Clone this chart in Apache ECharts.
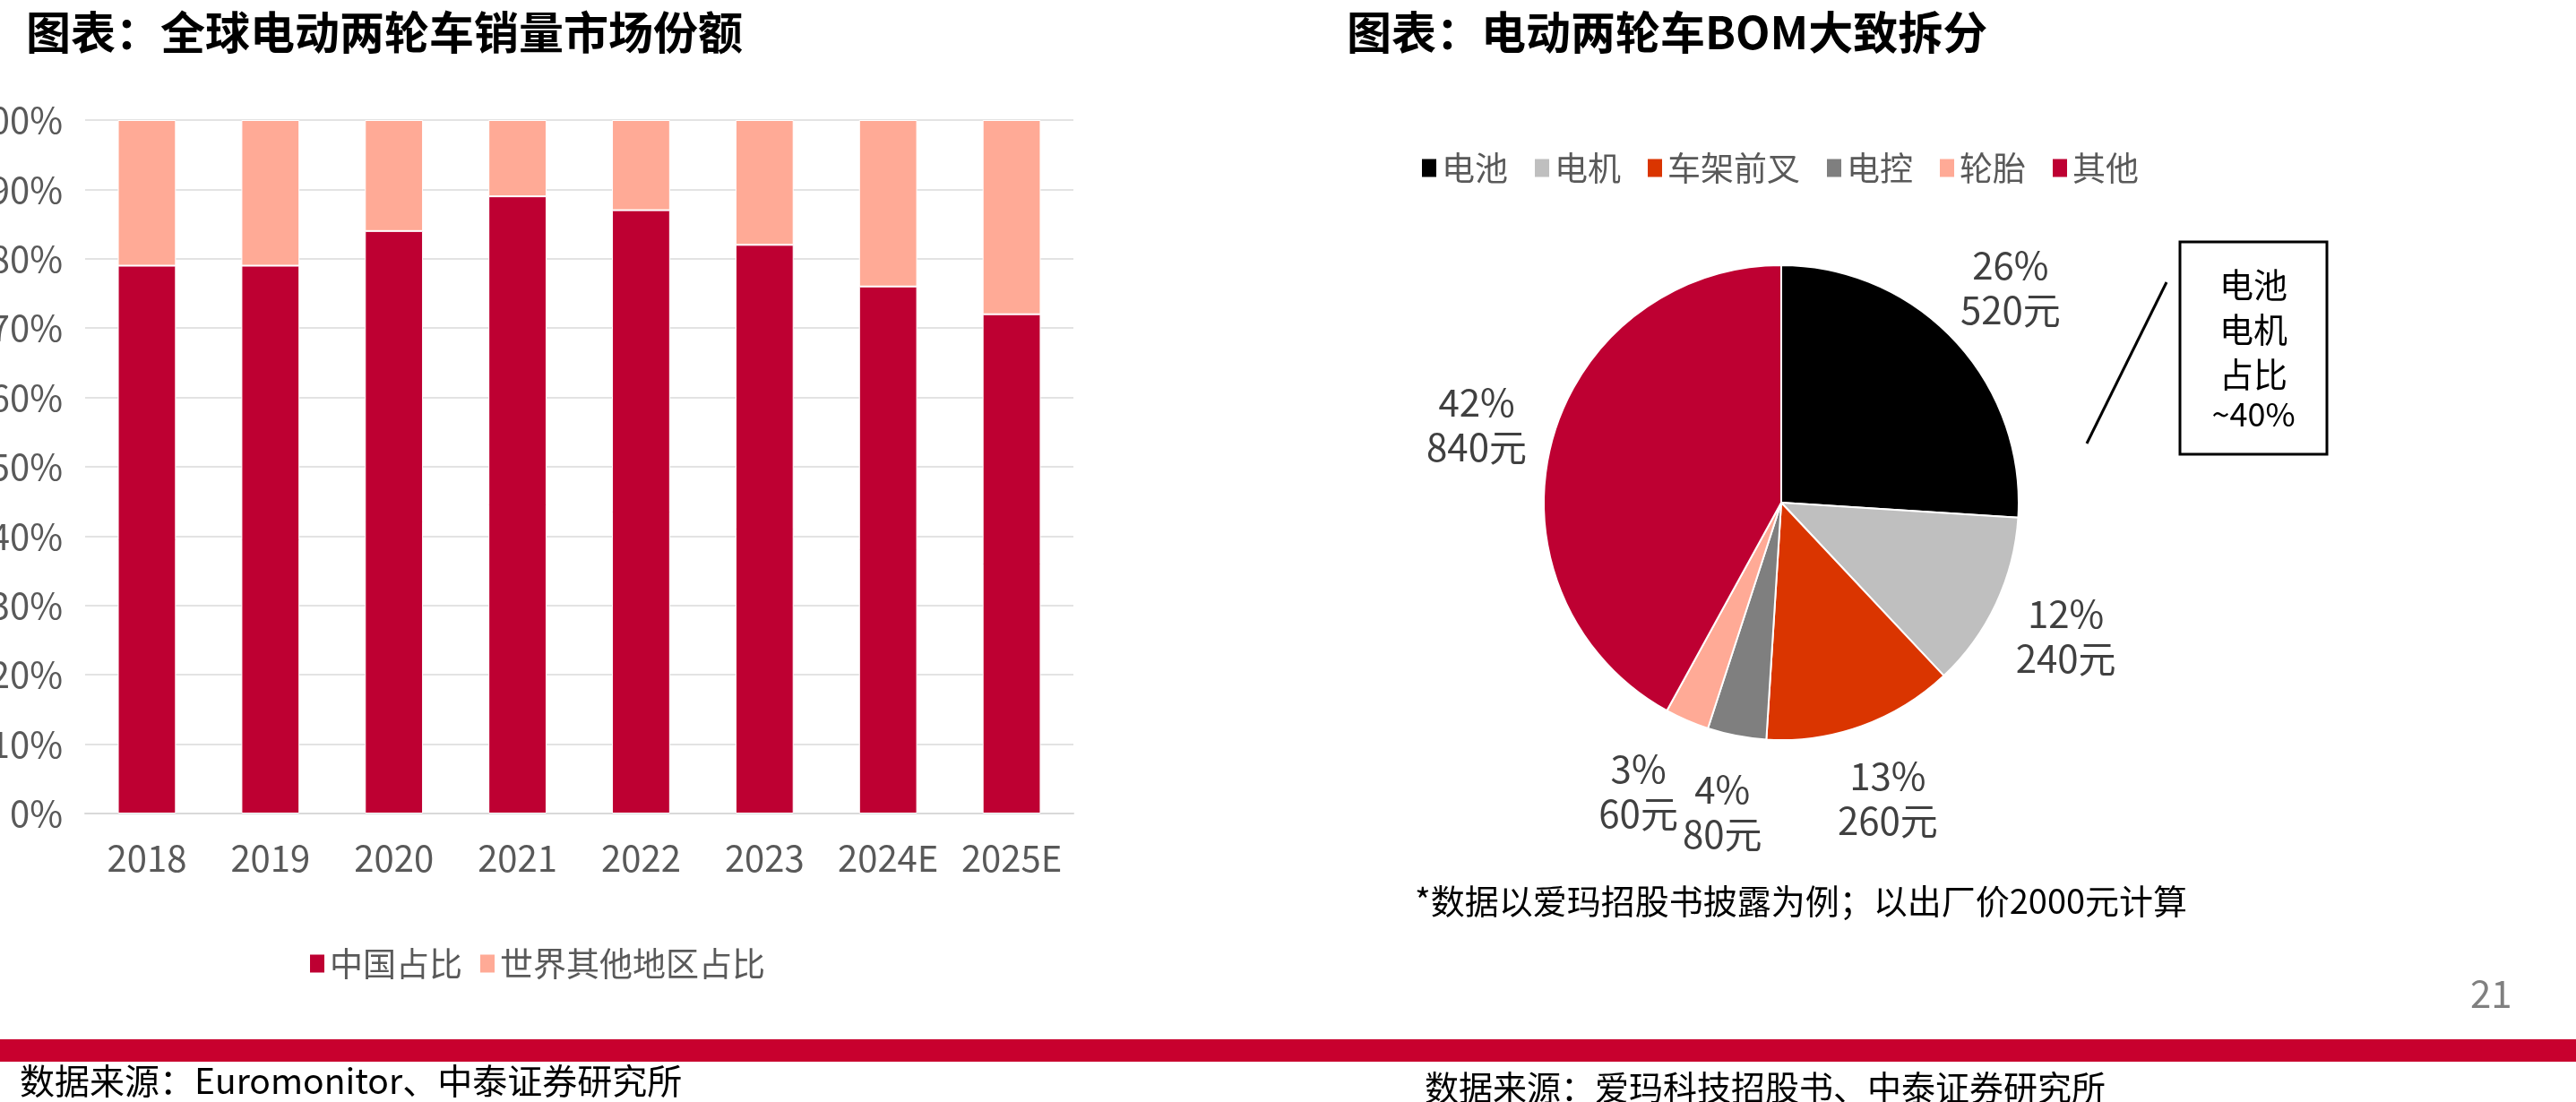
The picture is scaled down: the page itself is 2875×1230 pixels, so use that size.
<!DOCTYPE html>
<html>
<head>
<meta charset="utf-8">
<script src="https://cdn.jsdelivr.net/npm/echarts@6/dist/echarts.min.js"></script>
<style>
html,body{margin:0;padding:0;background:#fff;}
#main{width:2875px;height:1230px;}
</style>
</head>
<body>
<div id="main"></div>
<script>
// 左图：全球电动两轮车销量市场份额
var years = ['2018','2019','2020','2021','2022','2023','2024E','2025E'];
var chinaShare = [79,79,84,89,87,82,76,72];
var otherShare = [21,21,16,11,13,18,24,28];
var yTicks = [0,10,20,30,40,50,60,70,80,90,100];

// 右图：BOM拆分
var bomParts = ['电池','电机','车架前叉','电控','轮胎','其他'];
var bomCost = [520,240,260,80,60,840];
var bomPct = [26,12,13,4,3,42];
var bomColors = ['#000000','#BFBFBF','#DA3500','#7F7F7F','#FFAA96','#BE0032'];

var font = '"Noto Sans CJK SC", "Noto Sans", sans-serif';
var red = '#BE0032', salmon = '#FFAA96';

var myChart = echarts.init(document.getElementById('main'));

var pieData = [];
var labelRing = [];
bomParts.forEach(function (name, i) {
  pieData.push({name: name, value: bomCost[i], itemStyle: {color: bomColors[i]}})
  var item = {value: bomCost[i]}
  // 3%标签稍微往左挪，避免和4%重叠
  if (i === 4) item.label = {offset: [-20, 0]}
  labelRing.push(item)
})

var option = {
  backgroundColor: '#fff',
  textStyle: {fontFamily: font},
  title: [
    {text: '图表：全球电动两轮车销量市场份额', left: 24, top: 6,
     textStyle: {fontSize: 50, fontWeight: 'bold', color: '#000', fontFamily: font}},
    {text: '图表：电动两轮车BOM大致拆分', left: 1498, top: 6,
     textStyle: {fontSize: 50, fontWeight: 'bold', color: '#000', fontFamily: font}}
  ],
  legend: [
    {
      data: ['中国占比','世界其他地区占比'],
      left: 339, top: 1052,
      icon: 'rect', itemWidth: 18, itemHeight: 22, itemGap: 18,
      textStyle: {fontSize: 37, color: '#595959', fontFamily: font}
    },
    {
      data: bomParts,
      left: 1580, top: 164,
      icon: 'rect', itemWidth: 18, itemHeight: 22, itemGap: 28,
      textStyle: {fontSize: 37, color: '#595959', fontFamily: font}
    }
  ],
  grid: {left: 95, right: 1677, top: 134, bottom: 322, outerBoundsMode: 'none', containLabel: false},
  xAxis: {
    type: 'category',
    data: years,
    axisTick: {show: false},
    axisLine: {lineStyle: {color: '#D9D9D9', width: 2}},
    axisLabel: {interval: 0, fontSize: 40, color: '#595959', margin: 30, fontFamily: font}
  },
  yAxis: {
    type: 'value',
    min: yTicks[0], max: yTicks[yTicks.length - 1], interval: 10,
    axisLine: {show: false},
    axisTick: {show: false},
    axisLabel: {fontSize: 40, color: '#595959', margin: 25, formatter: '{value}%', fontFamily: font},
    splitLine: {lineStyle: {color: '#E3E3E3', width: 2}}
  },
  series: [
    {
      name: '中国占比', type: 'bar', stack: 'share', barWidth: '47%',
      data: chinaShare,
      itemStyle: {color: red, borderColor: '#fff', borderWidth: 1}
    },
    {
      name: '世界其他地区占比', type: 'bar', stack: 'share',
      data: otherShare,
      itemStyle: {color: salmon, borderColor: '#fff', borderWidth: 1}
    },
    {
      name: 'BOM', type: 'pie',
      center: [1988, 561], radius: 265,
      startAngle: 90, clockwise: true,
      data: pieData,
      itemStyle: {borderColor: '#fff', borderWidth: 2},
      label: {show: false},
      labelLine: {show: false},
      emphasis: {disabled: true}
    },
    {
      // 透明外环，只用来放标签（Excel风格：标签居中放在扇区角平分线上）
      name: 'BOM标签', type: 'pie',
      center: [1988, 561], radius: [300, 396],
      startAngle: 90, clockwise: true,
      silent: true,
      data: labelRing,
      itemStyle: {color: 'rgba(0,0,0,0)'},
      emphasis: {disabled: true},
      label: {
        show: true, position: 'inside',
        formatter: function (p) {
          return bomPct[p.dataIndex] + '%\n' + p.value + '元'
        },
        fontSize: 42, lineHeight: 50, color: '#404040', align: 'center', fontFamily: font
      },
      labelLine: {show: false}
    }
  ],
  graphic: [
    {type: 'rect', shape: {x: 0, y: 1160, width: 2875, height: 25}, style: {fill: '#C8002E'}},
    {type: 'text', left: 22, top: 1187, style: {text: '数据来源：Euromonitor、中泰证券研究所', font: '39px ' + font, fill: '#000'}},
    {type: 'text', left: 1590, top: 1195, style: {text: '数据来源：爱玛科技招股书、中泰证券研究所', font: '38px ' + font, fill: '#000'}},
    {type: 'text', left: 1579, top: 987, style: {text: '*数据以爱玛招股书披露为例；以出厂价2000元计算', font: '38px ' + font, fill: '#000'}},
    {type: 'text', left: 2757, top: 1088, style: {text: '21', font: '42px ' + font, fill: '#808080'}},
    {type: 'rect', shape: {x: 2433, y: 270, width: 164, height: 237}, style: {fill: 'none', stroke: '#000', lineWidth: 3}},
    {type: 'text', x: 2515, y: 293, style: {text: '电池\n电机\n占比', font: '38px ' + font, fill: '#000', textAlign: 'center', lineHeight: 50}},
    {type: 'text', x: 2515, y: 444, style: {text: '~40%', font: '36px ' + font, fill: '#000', textAlign: 'center'}},
    {type: 'line', shape: {x1: 2418, y1: 315, x2: 2329, y2: 495}, style: {stroke: '#000', lineWidth: 3}}
  ]
};

myChart.setOption(option);
</script>
</body>
</html>
